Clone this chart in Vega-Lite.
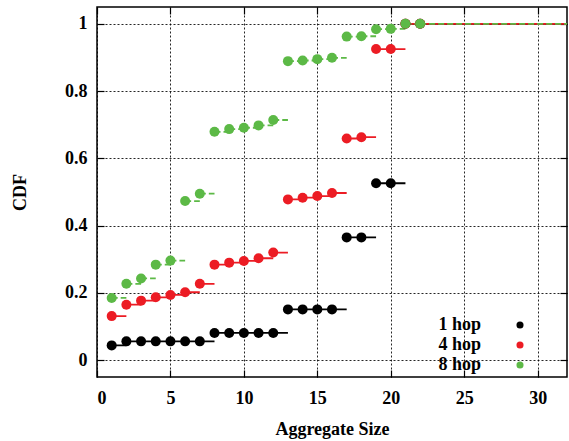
{
  "$schema": "https://vega.github.io/schema/vega-lite/v6.json",
  "width": 470,
  "height": 370,
  "autosize": {"type": "none"},
  "padding": {"left": 97, "top": 7, "right": 2, "bottom": 64},
  "background": "white",
  "config": {
    "view": {"stroke": "black", "strokeWidth": 1.5},
    "font": "Liberation Serif, Times New Roman, Times, serif",
    "axis": {
      "labelFont": "Liberation Serif, Times New Roman, Times, serif",
      "labelFontSize": 18,
      "labelFontWeight": "bold",
      "labelColor": "black",
      "titleFont": "Liberation Serif, Times New Roman, Times, serif",
      "titleFontSize": 18,
      "titleFontWeight": "bold",
      "titleColor": "black",
      "domain": false,
      "grid": true,
      "gridColor": "black",
      "gridDash": [2, 2],
      "gridWidth": 1,
      "gridOpacity": 0.85,
      "tickColor": "black",
      "tickSize": -7,
      "tickWidth": 1.2
    },
    "legend": {
      "labelFont": "Liberation Serif, Times New Roman, Times, serif",
      "labelFontSize": 18,
      "labelFontWeight": "bold",
      "labelColor": "black"
    }
  },
  "data": {
    "values": [
      {"hop": "1 hop", "size": 1, "next": 2, "cdf": 0.044},
      {"hop": "1 hop", "size": 2, "next": 3, "cdf": 0.056},
      {"hop": "1 hop", "size": 3, "next": 4, "cdf": 0.056},
      {"hop": "1 hop", "size": 4, "next": 5, "cdf": 0.056},
      {"hop": "1 hop", "size": 5, "next": 6, "cdf": 0.056},
      {"hop": "1 hop", "size": 6, "next": 7, "cdf": 0.056},
      {"hop": "1 hop", "size": 7, "next": 8, "cdf": 0.056},
      {"hop": "1 hop", "size": 8, "next": 9, "cdf": 0.081},
      {"hop": "1 hop", "size": 9, "next": 10, "cdf": 0.081},
      {"hop": "1 hop", "size": 10, "next": 11, "cdf": 0.081},
      {"hop": "1 hop", "size": 11, "next": 12, "cdf": 0.081},
      {"hop": "1 hop", "size": 12, "next": 13, "cdf": 0.081},
      {"hop": "1 hop", "size": 13, "next": 14, "cdf": 0.151},
      {"hop": "1 hop", "size": 14, "next": 15, "cdf": 0.151},
      {"hop": "1 hop", "size": 15, "next": 16, "cdf": 0.151},
      {"hop": "1 hop", "size": 16, "next": 17, "cdf": 0.151},
      {"hop": "1 hop", "size": 17, "next": 18, "cdf": 0.365},
      {"hop": "1 hop", "size": 18, "next": 19, "cdf": 0.365},
      {"hop": "1 hop", "size": 19, "next": 20, "cdf": 0.526},
      {"hop": "1 hop", "size": 20, "next": 21, "cdf": 0.526},
      {"hop": "1 hop", "size": 21, "next": 22, "cdf": 1.0},
      {"hop": "1 hop", "size": 22, "next": 32, "cdf": 1.0},
      {"hop": "4 hop", "size": 1, "next": 2, "cdf": 0.131},
      {"hop": "4 hop", "size": 2, "next": 3, "cdf": 0.165},
      {"hop": "4 hop", "size": 3, "next": 4, "cdf": 0.177},
      {"hop": "4 hop", "size": 4, "next": 5, "cdf": 0.187},
      {"hop": "4 hop", "size": 5, "next": 6, "cdf": 0.194},
      {"hop": "4 hop", "size": 6, "next": 7, "cdf": 0.202},
      {"hop": "4 hop", "size": 7, "next": 8, "cdf": 0.227},
      {"hop": "4 hop", "size": 8, "next": 9, "cdf": 0.284},
      {"hop": "4 hop", "size": 9, "next": 10, "cdf": 0.29},
      {"hop": "4 hop", "size": 10, "next": 11, "cdf": 0.295},
      {"hop": "4 hop", "size": 11, "next": 12, "cdf": 0.303},
      {"hop": "4 hop", "size": 12, "next": 13, "cdf": 0.32},
      {"hop": "4 hop", "size": 13, "next": 14, "cdf": 0.478},
      {"hop": "4 hop", "size": 14, "next": 15, "cdf": 0.483},
      {"hop": "4 hop", "size": 15, "next": 16, "cdf": 0.488},
      {"hop": "4 hop", "size": 16, "next": 17, "cdf": 0.497},
      {"hop": "4 hop", "size": 17, "next": 18, "cdf": 0.659},
      {"hop": "4 hop", "size": 18, "next": 19, "cdf": 0.663},
      {"hop": "4 hop", "size": 19, "next": 20, "cdf": 0.925},
      {"hop": "4 hop", "size": 20, "next": 21, "cdf": 0.925},
      {"hop": "4 hop", "size": 21, "next": 22, "cdf": 1.0},
      {"hop": "4 hop", "size": 22, "next": 32, "cdf": 1.0},
      {"hop": "8 hop", "size": 1, "next": 2, "cdf": 0.185},
      {"hop": "8 hop", "size": 2, "next": 3, "cdf": 0.227},
      {"hop": "8 hop", "size": 3, "next": 4, "cdf": 0.243},
      {"hop": "8 hop", "size": 4, "next": 5, "cdf": 0.284},
      {"hop": "8 hop", "size": 5, "next": 6, "cdf": 0.296},
      {"hop": "8 hop", "size": 6, "next": 7, "cdf": 0.473},
      {"hop": "8 hop", "size": 7, "next": 8, "cdf": 0.495},
      {"hop": "8 hop", "size": 8, "next": 9, "cdf": 0.679},
      {"hop": "8 hop", "size": 9, "next": 10, "cdf": 0.687},
      {"hop": "8 hop", "size": 10, "next": 11, "cdf": 0.691},
      {"hop": "8 hop", "size": 11, "next": 12, "cdf": 0.698},
      {"hop": "8 hop", "size": 12, "next": 13, "cdf": 0.714},
      {"hop": "8 hop", "size": 13, "next": 14, "cdf": 0.889},
      {"hop": "8 hop", "size": 14, "next": 15, "cdf": 0.891},
      {"hop": "8 hop", "size": 15, "next": 16, "cdf": 0.895},
      {"hop": "8 hop", "size": 16, "next": 17, "cdf": 0.899},
      {"hop": "8 hop", "size": 17, "next": 18, "cdf": 0.962},
      {"hop": "8 hop", "size": 18, "next": 19, "cdf": 0.963},
      {"hop": "8 hop", "size": 19, "next": 20, "cdf": 0.984},
      {"hop": "8 hop", "size": 20, "next": 21, "cdf": 0.985},
      {"hop": "8 hop", "size": 21, "next": 22, "cdf": 1.0},
      {"hop": "8 hop", "size": 22, "next": 32, "cdf": 1.0}
    ]
  },
  "resolve": {"axis": {"x": "independent", "y": "independent"}},
  "layer": [
    {
      "mark": {"type": "rule", "strokeWidth": 1.8},
      "encoding": {
        "x": {
          "field": "size", "type": "quantitative",
          "scale": {"domain": [0, 32], "nice": false, "zero": false},
          "axis": {"orient": "bottom", "values": [0, 5, 10, 15, 20, 25, 30], "title": "Aggregate Size", "labelPadding": 19, "titlePadding": 13}
        },
        "x2": {"field": "next"},
        "y": {
          "field": "cdf", "type": "quantitative",
          "scale": {"domain": [-0.05, 1.05], "nice": false, "zero": false},
          "axis": {"orient": "left", "values": [0, 0.2, 0.4, 0.6, 0.8, 1], "format": "~g", "title": "CDF", "labelPadding": 17, "titlePadding": 35}
        },
        "color": {
          "field": "hop", "type": "nominal",
          "scale": {"domain": ["1 hop", "4 hop", "8 hop"], "range": ["#000000", "#ec1c24", "#5cb946"]}
        },
        "strokeDash": {
          "field": "hop", "type": "nominal",
          "scale": {"domain": ["1 hop", "4 hop", "8 hop"], "range": [[1, 0], [1, 0], [6, 3]]}
        }
      }
    },
    {
      "mark": {"type": "point", "filled": true, "size": 100, "opacity": 1},
      "encoding": {
        "x": {
          "field": "size", "type": "quantitative",
          "axis": {"orient": "top", "values": [0, 5, 10, 15, 20, 25, 30], "labels": false, "title": null, "grid": false}
        },
        "y": {
          "field": "cdf", "type": "quantitative",
          "axis": {"orient": "right", "values": [0, 0.2, 0.4, 0.6, 0.8, 1], "labels": false, "title": null, "grid": false}
        },
        "color": {
          "field": "hop", "type": "nominal",
          "legend": {
            "title": null,
            "orient": "none",
            "legendX": 414,
            "legendY": 309,
            "symbolType": "circle",
            "symbolSize": 50,
            "symbolOpacity": 1,
            "symbolStrokeWidth": 0,
            "labelAlign": "right",
            "labelOffset": -48,
            "rowPadding": 2,
            "padding": 0
          }
        }
      }
    }
  ]
}
